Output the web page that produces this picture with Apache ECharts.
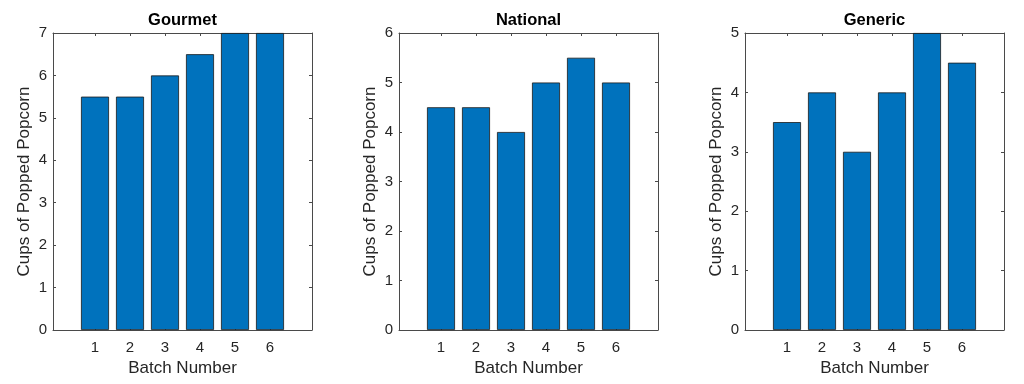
<!DOCTYPE html>
<html>
<head>
<meta charset="utf-8">
<script src="https://cdn.jsdelivr.net/npm/echarts@6/dist/echarts.min.js"></script>
<style>html,body{margin:0;padding:0;background:#fff;}#c{width:1024px;height:384px;}</style>
</head>
<body>
<div id="c"></div>
<script>
const batches = [1, 2, 3, 4, 5, 6];
const titles = ['Gourmet', 'National', 'Generic'];
const gourmet = [5.5, 5.5, 6, 6.5, 7, 7];
const national = [4.5, 4.5, 4, 5, 5.5, 5];
const generic = [3.5, 4, 3, 4, 5, 4.5];
const yMax = [7, 6, 5];
const xLabel = 'Batch Number';
const yLabel = 'Cups of Popped Popcorn';

const seriesValues = [gourmet, national, generic];
const lefts = [53, 399, 745];
const W = 259, TOP = 33, H = 297;
const TXT = '#262626', AX = '#4a4a4a';
const FONT = 'Liberation Sans';

const grid = [], xAxis = [], yAxis = [], series = [], title = [];
seriesValues.forEach((vals, i) => {
  grid.push({left: lefts[i], top: TOP, width: W, height: H, containLabel: false});
  const common = {
    axisLine: {show: true, onZero: false, lineStyle: {color: AX, width: 1}},
    axisTick: {show: true, inside: true, length: 3, lineStyle: {color: AX}},
    splitLine: {show: false}
  };
  xAxis.push(Object.assign({}, common, {
    type: 'value', gridIndex: i, position: 'bottom', min: -0.2, max: 7.2,
    name: xLabel, nameLocation: 'middle', nameGap: 29,
    nameTextStyle: {color: TXT, fontSize: 17, fontFamily: FONT},
    axisTick: {show: true, inside: true, length: 3, lineStyle: {color: AX}, customValues: batches},
    axisLabel: {show: true, color: TXT, fontSize: 15, fontFamily: FONT, margin: 10, customValues: batches}
  }));
  xAxis.push(Object.assign({}, common, {
    type: 'value', gridIndex: i, position: 'top', min: -0.2, max: 7.2,
    axisTick: {show: true, inside: true, length: 3, lineStyle: {color: AX}, customValues: batches},
    axisLabel: {show: false, customValues: batches}
  }));
  yAxis.push(Object.assign({}, common, {
    type: 'value', gridIndex: i, position: 'left', min: 0, max: yMax[i], interval: 1,
    name: yLabel, nameLocation: 'middle', nameGap: 20,
    nameTextStyle: {color: TXT, fontSize: 17, fontFamily: FONT},
    axisLabel: {show: true, color: TXT, fontSize: 15, fontFamily: FONT, margin: 6}
  }));
  yAxis.push(Object.assign({}, common, {
    type: 'value', gridIndex: i, position: 'right', min: 0, max: yMax[i], interval: 1,
    axisLabel: {show: false}
  }));
  series.push({
    type: 'bar', xAxisIndex: i * 2, yAxisIndex: i * 2,
    data: batches.map((b, k) => [b, vals[k]]),
    barWidth: 28,
    itemStyle: {color: '#0072BD', borderColor: '#1a1a1a', borderWidth: 0.8},
    silent: true
  });
  title.push({
    text: titles[i], left: lefts[i] + W / 2, top: 12, padding: 0, textAlign: 'center',
    textStyle: {color: '#000', fontSize: 16.5, fontWeight: 'bold', fontFamily: FONT}
  });
});

const chart = echarts.init(document.getElementById('c'), null, {renderer: 'canvas'});
chart.setOption({animation: false, backgroundColor: '#fff', title, grid, xAxis, yAxis, series});
</script>
</body>
</html>
